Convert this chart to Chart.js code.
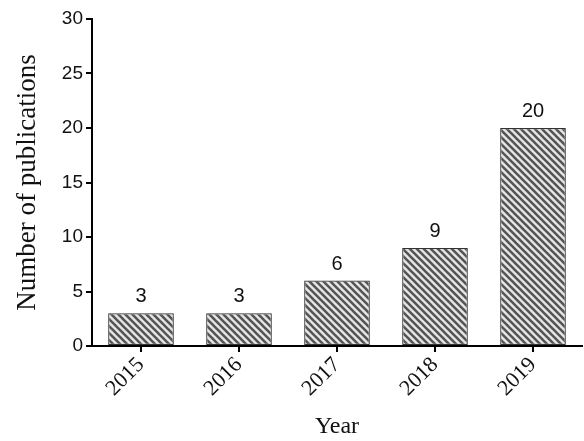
<!DOCTYPE html>
<html>
<head>
<meta charset="utf-8">
<script src="https://cdn.jsdelivr.net/npm/chart.js@4"></script>
<style>
  html, body { margin: 0; padding: 0; background: #fff; }
  #wrap { width: 584px; height: 441px; position: relative; }
</style>
</head>
<body>
<div id="wrap"><canvas id="c" width="584" height="441"></canvas></div>
<script>
// Publications per year
const years = ['2015', '2016', '2017', '2018', '2019'];
const publications = [3, 3, 6, 9, 20];
const yTicks = [0, 5, 10, 15, 20, 25, 30];

const serif = '"Liberation Serif", "Times New Roman", serif';
const sans = '"Liberation Sans", Arial, sans-serif';

// Diagonal hatch fill for the bars
function makeHatch() {
  const s = 7;
  const t = document.createElement('canvas');
  t.width = s; t.height = s;
  const g = t.getContext('2d');
  g.fillStyle = '#e6e6e6';
  g.fillRect(0, 0, s, s);
  g.strokeStyle = '#555';
  g.lineWidth = 2.6;
  g.beginPath();
  g.moveTo(-1, -1); g.lineTo(s + 1, s + 1);
  g.moveTo(-1 - s, -1); g.lineTo(1, s + 1);
  g.moveTo(s - 1, -1); g.lineTo(2 * s + 1, s + 1);
  g.stroke();
  return document.getElementById('c').getContext('2d').createPattern(t, 'repeat');
}

// Writes each bar's value above it
const valueLabels = {
  id: 'valueLabels',
  afterDatasetsDraw(chart) {
    const ctx = chart.ctx;
    const meta = chart.getDatasetMeta(0);
    ctx.save();
    ctx.font = '20px ' + sans;
    ctx.fillStyle = '#111';
    ctx.textAlign = 'center';
    ctx.textBaseline = 'alphabetic';
    meta.data.forEach((bar, i) => {
      ctx.fillText(String(publications[i]), bar.x, bar.y - 11);
    });
    ctx.restore();
  }
};

new Chart(document.getElementById('c'), {
  type: 'bar',
  data: {
    labels: years,
    datasets: [{
      data: publications,
      backgroundColor: makeHatch(),
      borderColor: '#333',
      borderWidth: 1.2,
      borderSkipped: false,
      barPercentage: 0.67,
      categoryPercentage: 1.0
    }]
  },
  options: {
    responsive: false,
    animation: false,
    events: [],
    layout: { padding: { top: 19, right: 2, left: 0, bottom: 0 } },
    plugins: { legend: { display: false }, tooltip: { enabled: false } },
    scales: {
      x: {
        afterFit(scale) { scale.height = 95; },
        border: { display: true, color: '#000', width: 2 },
        grid: { offset: false, drawOnChartArea: false, drawTicks: true, tickLength: 6, color: '#000', lineWidth: 2 },
        ticks: {
          minRotation: 45, maxRotation: 45,
          color: '#111',
          padding: 0,
          font: { family: serif, size: 22 }
        },
        title: {
          display: true, text: 'Year', color: '#111',
          font: { family: serif, size: 24 },
          padding: { top: 0, bottom: 0 }
        }
      },
      y: {
        min: 0, max: 30,
        afterFit(scale) { scale.width = 92; },
        afterBuildTicks(scale) { scale.ticks = yTicks.map(v => ({ value: v })); },
        border: { display: true, color: '#000', width: 2 },
        grid: { drawOnChartArea: false, drawTicks: true, tickLength: 6, color: '#000', lineWidth: 2 },
        ticks: {
          color: '#111', padding: 3,
          font: { family: sans, size: 19 }
        },
        title: {
          display: true, text: 'Number of publications', color: '#111',
          font: { family: serif, size: 27 },
          padding: { top: 12, bottom: 0 }
        }
      }
    }
  },
  plugins: [valueLabels]
});
</script>
</body>
</html>
